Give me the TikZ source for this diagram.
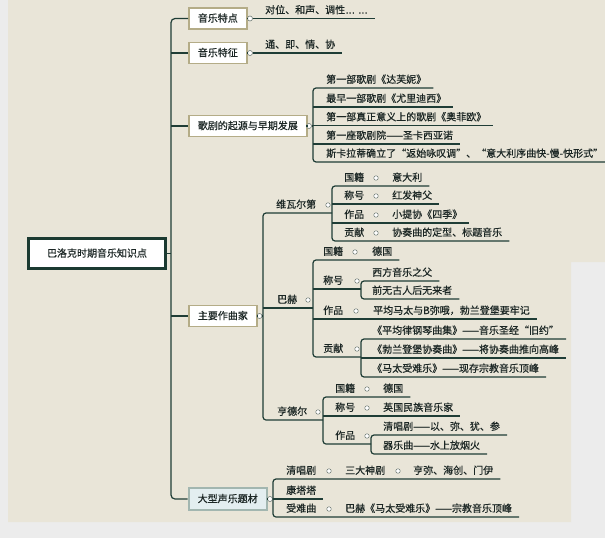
\documentclass[tikz,border=0pt]{standalone}
\usepackage{fontspec}
\setmainfont{Noto Sans CJK SC}[FakeBold=0.5]
\newfontfamily\latf{Liberation Sans}[FakeBold=0.5]
\usetikzlibrary{calc}
\definecolor{bgout}{HTML}{ECECEC}
\definecolor{bgin}{HTML}{E9E5D8}
\definecolor{lnc}{HTML}{1F3D36}
\definecolor{txc}{HTML}{1B2624}
\definecolor{boxc}{HTML}{B4AC87}
\definecolor{knc}{HTML}{6E7A75}
\definecolor{rootc}{HTML}{1B3A31}
\definecolor{selfill}{HTML}{E3EEF0}
\definecolor{selc}{HTML}{A2B6B0}
\newcommand\mmrow[7]{%
  \node[txt] (#1a) at (#2,#5) {#6};
  \node[rowdot] (#1d) at (#3,#5-8) {};
  \node[txt] (#1b) at (#4,#5) {#7};}
\begin{document}
\begin{tikzpicture}[x=1pt,y=-1pt,
  ln/.style={draw=lnc,line width=1.2pt},
  txt/.style={anchor=south west,inner xsep=0pt,inner ysep=3.2pt,text height=8.3pt,text depth=1.6pt,font=\fontsize{10pt}{11pt}\selectfont,text=txc},
  mbox/.style={anchor=west,draw=boxc,line width=1.7pt,fill=white,inner xsep=9pt,inner ysep=0pt,minimum height=21pt,text height=8.3pt,text depth=1.6pt,font=\fontsize{10pt}{11pt}\selectfont,text=txc},
  knob/.style={circle,draw=knc,fill=white,line width=0.6pt,inner sep=0pt,minimum size=5pt},
  rowdot/.style={circle,draw=knc,fill=white,line width=0.5pt,inner sep=0pt,minimum size=4.5pt},
]
\useasboundingbox (0,0) rectangle (605,538);
\fill[bgout] (0,0) rectangle (605,538);
\fill[bgin] (8,0) -- (605,0) -- (605,262) -- (571,262) -- (571,522) -- (8,522) -- cycle;

% root and main branches
\node[draw=rootc,line width=3pt,fill=white,minimum width=137pt,minimum height=30pt,inner sep=0pt,text height=8.3pt,text depth=1.6pt,font=\fontsize{10pt}{11pt}\selectfont,text=txc] (root) at (97,253.5) {巴洛克时期音乐知识点};
\node[mbox] (m1) at (188,18.5) {音乐特点};
\node[mbox] (m2) at (188,53) {音乐特征};
\node[mbox] (m3) at (188,126) {歌剧的起源与早期发展};
\node[mbox] (m4) at (188,316) {主要作曲家};
\node[mbox,fill=selfill,draw=selc,line width=2.5pt,minimum height=22pt] (m5) at (187.5,499) {大型声乐题材};

\node[knob] (k1) at (250,18.5) {};
\node[knob] (k2) at (250,53) {};
\node[knob] (k3) at (309,126) {};
\node[knob] (k4) at (259.5,316) {};
\node[knob] (k5) at (270,499) {};

\coordinate (sp) at (171,0);
\draw[ln,rounded corners=4pt] (m1.west) -| (sp |- root.east) |- (m5.west);
\draw[ln] (root.east) -- (sp |- root.east);
\foreach \n in {m2,m3,m4} \draw[ln] (sp |- \n.west) -- (\n.west);
\foreach \i in {1,...,5} \draw[ln] (m\i.east) -- (k\i.west);

% 音乐特点 / 音乐特征
\node[txt] (t11) at (265,18.5) {对位、和声、调性{\latf … …}};
\draw[ln] (k1.east) -- ([xshift=7pt]t11.south east);
\node[txt] (t21) at (265,53) {通、即、情、协};
\draw[ln] (k2.east) -- ([xshift=7pt]t21.south east);

% 歌剧的起源与早期发展
\coordinate (bO) at (313,0);
\node[txt] (o1) at (326,88) {第一部歌剧《达芙妮》};
\node[txt] (o2) at (326,107) {最早一部歌剧《尤里迪西》};
\node[txt] (o3) at (326,125.5) {第一部真正意义上的歌剧《奥菲欧》};
\node[txt] (o4) at (326,144) {第一座歌剧院——圣卡西亚诺};
\node[txt] (o5) at (326,162) {斯卡拉蒂确立了“返始咏叹调”、“意大利序曲快-慢-快形式”};
\draw[ln,rounded corners=3pt] ([xshift=7pt]o1.south east) -- (bO |- o1.south) -- (bO |- o5.south) -- ([xshift=7pt]o5.south east);
\foreach \n in {o2,o3,o4} \draw[ln] (bO |- \n.south) -- ([xshift=7pt]\n.south east);
\draw[ln] (k3.east) -- (bO |- k3.east);

% 主要作曲家
\coordinate (bA) at (263,0);
\coordinate (bB) at (332,0);
\coordinate (bC) at (313,0);
\coordinate (bD) at (361,0);
\coordinate (bF) at (323,0);
\coordinate (bG) at (371,0);
\draw[ln] (k4.east) -- (bA |- k4.east);

% 维瓦尔第
\node[txt] (wv) at (276,213) {维瓦尔第};
\node[rowdot] (wvk) at (328,205) {};
\mmrow{v1}{344}{376}{392}{186}{国籍}{意大利}
\mmrow{v2}{344}{376}{392}{204}{称号}{红发神父}
\mmrow{v3}{344}{376}{392}{223}{作品}{小提协《四季》}
\mmrow{v4}{344}{376}{392}{241}{贡献}{协奏曲的定型、标题音乐}
\draw[ln,rounded corners=3pt] ([xshift=7pt]v1b.south east) -- (bB |- v1b.south) -- (bB |- v4b.south) -- ([xshift=7pt]v4b.south east);
\foreach \n in {v2b,v3b} \draw[ln] (bB |- \n.south) -- ([xshift=7pt]\n.south east);

% 巴赫
\node[txt] (ba) at (277,308) {巴赫};
\node[rowdot] (bak) at (308,300) {};
\mmrow{b1}{323}{355}{372}{260}{国籍}{德国}
\node[txt] (b2a) at (323,289) {称号};
\node[rowdot] (b2d) at (357,281) {};
\node[txt] (b2x) at (372,281) {西方音乐之父};
\node[txt] (b2y) at (372,299) {前无古人后无来者};
\mmrow{b3}{323}{356}{373}{319}{作品}{平均马太与B弥哦，勃兰登堡要牢记}
\node[txt] (b4a) at (323,357) {贡献};
\node[rowdot] (b4d) at (357,349) {};
\node[txt] (b4x) at (372,339) {《平均律钢琴曲集》——音乐圣经“旧约”};
\node[txt] (b4y) at (372,358) {《勃兰登堡协奏曲》——将协奏曲推向高峰};
\node[txt] (b4z) at (372,377) {《马太受难乐》——现存宗教音乐顶峰};
\draw[ln] (bA |- ba.south) -- (bC |- ba.south);
\draw[ln,rounded corners=3pt] ([xshift=7pt]b1b.south east) -- (bC |- b1b.south) -- (bC |- b4a.south) -- (bD |- b4a.south);
\draw[ln] (bC |- b2a.south) -- (bD |- b2a.south);
\draw[ln] (bC |- b3b.south) -- ([xshift=7pt]b3b.south east);
\draw[ln,rounded corners=3pt] ([xshift=7pt]b2x.south east) -- (bD |- b2x.south) -- (bD |- b2y.south) -- ([xshift=7pt]b2y.south east);
\draw[ln,rounded corners=3pt] ([xshift=7pt]b4x.south east) -- (bD |- b4x.south) -- (bD |- b4z.south) -- ([xshift=7pt]b4z.south east);
\draw[ln] (bD |- b4y.south) -- ([xshift=7pt]b4y.south east);

% 亨德尔
\node[txt] (hd) at (277,420) {亨德尔};
\node[rowdot] (hdk) at (318,412) {};
\mmrow{h1}{335}{367}{383}{397}{国籍}{德国}
\mmrow{h2}{335}{367}{383}{416}{称号}{英国民族音乐家}
\node[txt] (h3a) at (335,444) {作品};
\node[rowdot] (h3d) at (367,436) {};
\node[txt] (h3x) at (383,435) {清唱剧——以、弥、犹、参};
\node[txt] (h3y) at (383,454) {器乐曲——水上放烟火};
\draw[ln,rounded corners=3pt] ([xshift=7pt]h1b.south east) -- (bF |- h1b.south) -- (bF |- h3a.south) -- (bG |- h3a.south);
\draw[ln] (bF |- h2b.south) -- ([xshift=7pt]h2b.south east);
\draw[ln,rounded corners=3pt] ([xshift=7pt]h3x.south east) -- (bG |- h3x.south) -- (bG |- h3y.south) -- ([xshift=7pt]h3y.south east);

% composers bracket
\draw[ln,rounded corners=3pt] (bB |- wv.south) -- (bA |- wv.south) -- (bA |- hd.south) -- (bF |- hd.south);

% 大型声乐题材
\coordinate (bH) at (273,0);
\node[txt] (g1a) at (286,479) {清唱剧};
\node[rowdot] (g1d) at (329,471) {};
\node[txt] (g1b) at (345,479) {三大神剧};
\node[rowdot] (g1e) at (398,471) {};
\node[txt] (g1c) at (413,479) {亨弥、海创、门伊};
\node[txt] (g2a) at (286,499) {康塔塔};
\mmrow{g3}{286}{329}{345}{517}{受难曲}{巴赫《马太受难乐》——宗教音乐顶峰}
\draw[ln,rounded corners=3pt] ([xshift=7pt]g1c.south east) -- (bH |- g1c.south) -- (bH |- g3b.south) -- ([xshift=7pt]g3b.south east);
\draw[ln] (k5.east) -- ([xshift=7pt]g2a.south east);
\end{tikzpicture}
\end{document}
